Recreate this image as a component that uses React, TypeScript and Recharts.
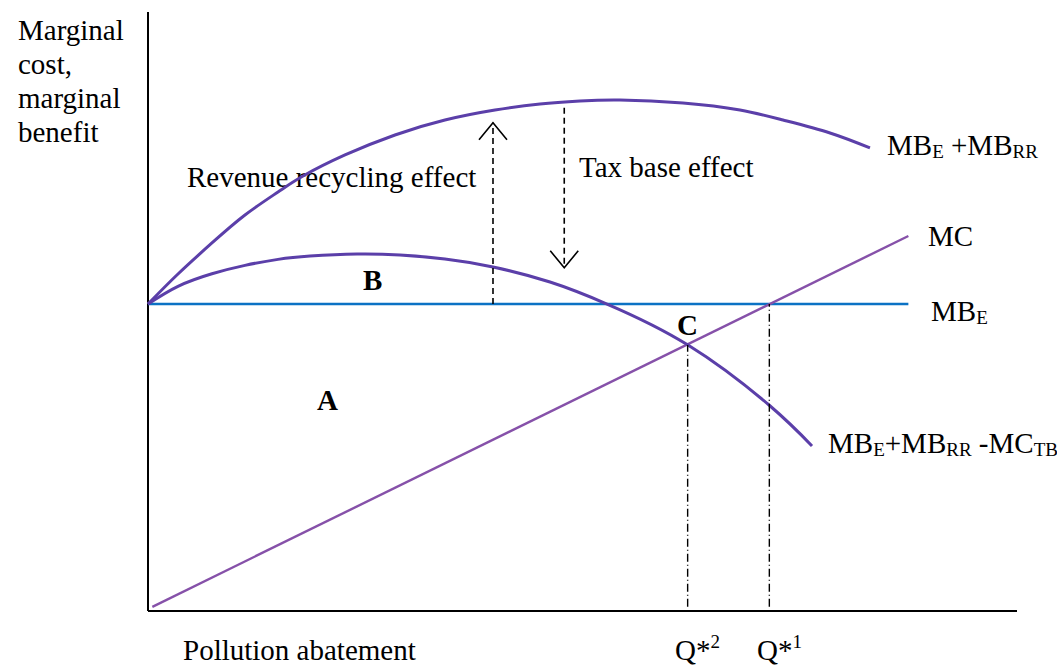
import { LineChart, Line, XAxis, YAxis, ReferenceLine } from 'recharts';

// abatement (x) and value (y) readings, both on a 0-100 scale
const upperX = [0, 3.45, 7.36, 11.16, 14.96, 17.84, 22.67, 28.42, 34.17, 39.93, 45.11, 49.71, 54.31, 61.56, 68.12, 73.07, 78.48, 83.08];
const upperY = [51.25, 56.26, 61.44, 66.11, 69.95, 72.62, 76.13, 79.47, 81.97, 83.64, 84.64, 85.14, 85.31, 84.81, 83.64, 81.97, 79.8, 77.3];

const lowerX = [0, 3.45, 7.36, 11.16, 14.96, 18.64, 24.05, 29.0, 34.17, 39.7, 46.26, 52.82, 62.14, 71.46, 76.41];
const lowerY = [51.25, 54.2, 56.3, 57.7, 58.7, 59.25, 59.6, 59.43, 58.76, 57.43, 54.92, 51.25, 44.41, 34.39, 27.55];

const mbeX = [0, 87.5];
const mbeY = [51.25, 51.25];

const mcX = [0.5, 87.5];
const mcY = [0.7, 62.6];

const qStar2 = 62.1;
const qStar1 = 71.5;
const recycling = { x: 39.7, from: 51.25, to: 81.5 };
const taxBase = { x: 47.9, from: 84.0, to: 57.3 };

const yLabel = ['Marginal', 'cost,', 'marginal', 'benefit'];
const xLabel = 'Pollution abatement';

const zip = (xs: number[], ys: number[]) => xs.map((x, i) => ({ x, y: ys[i] }));

const CURVE = '#5b3fa9';
const MC_COL = '#8651a9';
const MBE_COL = '#0b72c4';
const FONT = '"Liberation Serif", "Times New Roman", Times, serif';

function Arrow(props: any) {
  const { x1, y1, x2, y2 } = props;
  const dir = y2 < y1 ? 1 : -1;
  return (
    <g>
      <line x1={x1} y1={y1} x2={x2} y2={y2} stroke="#000" strokeWidth={1.6} strokeDasharray="6 4" />
      <path
        d={`M${x2 - 14},${y2 + dir * 17} L${x2},${y2} L${x2 + 14},${y2 + dir * 17}`}
        fill="none"
        stroke="#000"
        strokeWidth={1.6}
      />
    </g>
  );
}

const txt = { fontFamily: FONT, fontSize: 29, fill: '#000' };
const sub = { fontSize: 19 };

export default function App() {
  return (
    <div style={{ position: 'absolute', left: 0, top: 0, background: '#fff', fontFamily: FONT }}>
      <LineChart width={1057} height={668} margin={{ top: 12, right: 40, bottom: 57, left: 148 }}>
        <XAxis type="number" dataKey="x" domain={[0, 100]} height={0} tick={false} tickLine={false} axisLine={false} />
        <YAxis type="number" domain={[0, 100]} width={0} tick={false} tickLine={false} axisLine={false} />

        {/* axes */}
        <ReferenceLine x={0} stroke="#000" strokeWidth={2} />
        <ReferenceLine y={0} stroke="#000" strokeWidth={2} />

        <Line data={zip(mbeX, mbeY)} dataKey="y" type="linear" stroke={MBE_COL} strokeWidth={2.6} dot={false} isAnimationActive={false} />
        <Line data={zip(mcX, mcY)} dataKey="y" type="linear" stroke={MC_COL} strokeWidth={2.4} dot={false} isAnimationActive={false} />
        <Line data={zip(upperX, upperY)} dataKey="y" type="natural" stroke={CURVE} strokeWidth={3} dot={false} isAnimationActive={false} />
        <Line data={zip(lowerX, lowerY)} dataKey="y" type="natural" stroke={CURVE} strokeWidth={3} dot={false} isAnimationActive={false} />

        <ReferenceLine
          segment={[{ x: qStar2, y: 0.7 }, { x: qStar2, y: 44.4 }]}
          stroke="#000"
          strokeWidth={1.4}
          strokeDasharray="8 3 1 3"
          ifOverflow="visible"
        />
        <ReferenceLine
          segment={[{ x: qStar1, y: 0.7 }, { x: qStar1, y: 51.25 }]}
          stroke="#000"
          strokeWidth={1.4}
          strokeDasharray="8 3 1 3"
          ifOverflow="visible"
        />
        <ReferenceLine
          segment={[{ x: recycling.x, y: recycling.from }, { x: recycling.x, y: recycling.to }]}
          shape={Arrow}
          ifOverflow="visible"
        />
        <ReferenceLine
          segment={[{ x: taxBase.x, y: taxBase.from }, { x: taxBase.x, y: taxBase.to }]}
          shape={Arrow}
          ifOverflow="visible"
        />

        <g>
          {yLabel.map((t, i) => (
            <text key={t} style={txt} x={18} y={40 + i * 34}>{t}</text>
          ))}
          <text style={txt} x={187} y={187}>Revenue recycling effect</text>
          <text style={txt} x={579} y={177}>Tax base effect</text>
          <text style={txt} x={887} y={155}>
            MB<tspan style={sub} dy={3}>E</tspan>
            <tspan dy={-3}> +MB</tspan>
            <tspan style={sub} dy={3}>RR</tspan>
          </text>
          <text style={txt} x={928} y={246}>MC</text>
          <text style={txt} x={931} y={321}>
            MB<tspan style={sub} dy={3}>E</tspan>
          </text>
          <text style={txt} x={828} y={453}>
            MB<tspan style={sub} dy={3}>E</tspan>
            <tspan dy={-3}>+MB</tspan>
            <tspan style={sub} dy={3}>RR</tspan>
            <tspan dy={-3}> -MC</tspan>
            <tspan style={sub} dy={3}>TB</tspan>
          </text>
          <text style={{ ...txt, fontWeight: 'bold' }} x={363} y={290}>B</text>
          <text style={{ ...txt, fontWeight: 'bold' }} x={317} y={410}>A</text>
          <text style={{ ...txt, fontWeight: 'bold' }} x={677} y={335}>C</text>
          <text style={txt} x={183} y={660}>{xLabel}</text>
          <text style={txt} x={675} y={660}>
            Q*<tspan style={sub} dy={-12}>2</tspan>
          </text>
          <text style={txt} x={757} y={660}>
            Q*<tspan style={sub} dy={-12}>1</tspan>
          </text>
        </g>
      </LineChart>
    </div>
  );
}
